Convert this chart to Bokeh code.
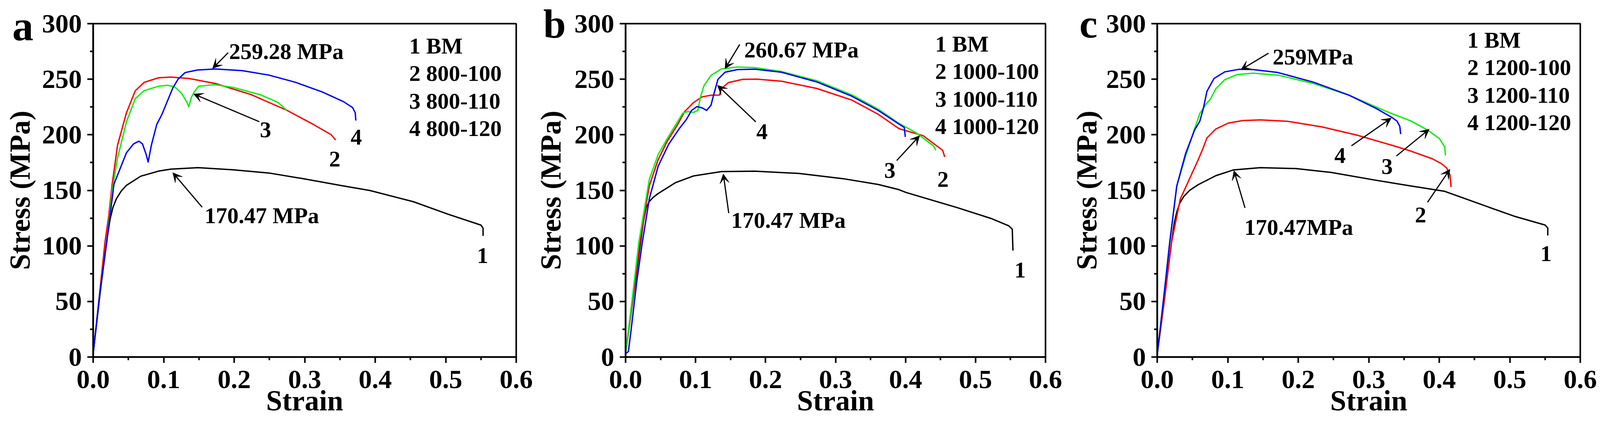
from bokeh.plotting import figure
from bokeh.models import Range1d, FixedTicker, PrintfTickFormatter, Arrow, VeeHead, LinearAxis
from bokeh.layouts import row
from bokeh.embed import file_html
from bokeh.resources import INLINE
from bokeh.core.properties import value

FONT = "Liberation Serif"
COLORS = ["#000000", "#ff0000", "#11ee11", "#0000ff"]

x_ticks = [0.0, 0.1, 0.2, 0.3, 0.4, 0.5, 0.6]
x_minor = [0.05, 0.15, 0.25, 0.35, 0.45, 0.55]
y_ticks = [0, 50, 100, 150, 200, 250, 300]
y_minor = [25, 75, 125, 175, 225, 275]

# ---- panel a : 800 series ----
strain_a1 = [0, 0.010, 0.020, 0.024, 0.028, 0.033, 0.040, 0.0472, 0.0674, 0.0927, 0.1103, 0.1482, 0.1987,
             0.2492, 0.2997, 0.3502, 0.3927, 0.454, 0.503, 0.550, 0.553, 0.553]
stress_a1 = [3, 58, 108, 124, 134.5, 142.5, 149.5, 154.5, 162.7, 167.3, 169.1, 170.4, 168.5,
             165.6, 160.3, 154.5, 149.8, 139.8, 128.6, 118.7, 116, 109]
strain_a2 = [0, 0.0099, 0.0169, 0.022, 0.027, 0.0346, 0.0472, 0.0598, 0.0724, 0.0927, 0.1103, 0.1356,
             0.1735, 0.224, 0.2745, 0.3123, 0.3376, 0.3439]
stress_a2 = [3, 62, 104, 126.5, 155.6, 190.7, 219.8, 239.7, 247.2, 251.3, 251.9, 250.7,
             246.1, 236.1, 222.1, 209.3, 200, 195.3]
strain_a3 = [0, 0.0099, 0.0194, 0.027, 0.0346, 0.0472, 0.0598, 0.0724, 0.0927, 0.1053, 0.1154, 0.1255,
             0.133, 0.1356, 0.1394, 0.1432, 0.1495, 0.1608, 0.1709, 0.1987, 0.2366, 0.2618, 0.2745]
stress_a3 = [3, 60, 104, 150, 179, 211.6, 232.6, 239.7, 243.7, 244.5, 243.2, 237.3,
             229.2, 225.1, 233.8, 238.5, 243.7, 244.3, 245.2, 242.6, 236.1, 229.2, 222.1]
strain_a4 = [0, 0.0099, 0.0194, 0.0295, 0.0472, 0.0573, 0.0649, 0.0699, 0.075, 0.078, 0.0826, 0.0902,
             0.0977, 0.1053, 0.1129, 0.1205, 0.1305, 0.1482, 0.1735, 0.2114, 0.2492, 0.2871, 0.325,
             0.3553, 0.3679, 0.3717, 0.3725]
stress_a4 = [3, 60, 104, 155.6, 183.8, 191.8, 194.2, 191.8, 182.6, 175.5, 190.7, 209.3,
             218.6, 230.3, 242, 250.1, 256, 258.3, 259.2, 257.7, 253.7, 247.2, 238.5,
             229.7, 224.5, 219.8, 212.8]

# ---- panel b : 1000 series ----
strain_b1 = [0, 0.010, 0.0213, 0.0255, 0.0294, 0.0339, 0.040, 0.0465, 0.0716, 0.0968, 0.137, 0.1849,
             0.2478, 0.3107, 0.361, 0.3907, 0.4006, 0.4741, 0.5231, 0.5476, 0.5525, 0.5535]
stress_b1 = [3, 50, 102.7, 122, 134.5, 140, 144, 147.1, 157, 162.9, 166.9, 167.2,
             165.2, 160.5, 155.3, 150.6, 148.1, 134.4, 124.5, 118, 115, 95.8]
strain_b2 = [0, 0.010, 0.0213, 0.0339, 0.0465, 0.0591, 0.0742, 0.0842, 0.0968, 0.1094, 0.122, 0.1341,
             0.137, 0.1471, 0.1673, 0.1874, 0.2226, 0.2729, 0.3233, 0.361, 0.3907, 0.4251, 0.453, 0.456]
stress_b2 = [3, 52, 107.4, 154.1, 177.5, 193.8, 209, 220.7, 228.9, 234.1, 235.6, 235.7,
             241.7, 247, 249.9, 250.1, 248.2, 241.7, 231.2, 218.4, 205.5, 199.2, 186, 180]
strain_b3 = [0, 0.010, 0.0188, 0.0339, 0.0465, 0.0591, 0.0716, 0.0817, 0.0893, 0.0968, 0.1031, 0.1069,
             0.1119, 0.122, 0.137, 0.1597, 0.1849, 0.2226, 0.2729, 0.3233, 0.361, 0.3907, 0.4153,
             0.440, 0.4433]
stress_b3 = [3, 55, 102.7, 159.9, 182.1, 196.1, 209, 219.5, 220.9, 220.1, 221.9, 233.5,
             244, 253.4, 259.3, 261, 260.4, 256.9, 248.7, 235.9, 223, 210.2, 201.7,
             190, 186]
strain_b4 = [0, 0.004, 0.008, 0.016, 0.0238, 0.0339, 0.0465, 0.0616, 0.0767, 0.0868, 0.0943, 0.1019,
             0.1094, 0.1157, 0.122, 0.1258, 0.132, 0.1421, 0.1597, 0.1849, 0.2226, 0.2729, 0.3233,
             0.361, 0.3907, 0.3982, 0.3997]
stress_b4 = [3, 5, 25, 68, 102.7, 142.4, 171.6, 191.5, 205.5, 213.7, 221.9, 225.4,
             224.2, 221.9, 226.5, 235.9, 249.9, 256.3, 258.7, 259, 256.3, 247.6, 234.7,
             221.9, 209.6, 206.6, 198]

# ---- panel c : 1200 series ----
strain_c1 = [0, 0.010, 0.0201, 0.024, 0.0277, 0.032, 0.0377, 0.046, 0.0579, 0.0831, 0.1083, 0.1461,
             0.1966, 0.2469, 0.3099, 0.3604, 0.4078, 0.4569, 0.5059, 0.550, 0.5539, 0.5539]
stress_c1 = [3, 52, 102.5, 120, 130.5, 138.5, 144.5, 150, 155, 163.2, 168.4, 170.4,
             169.6, 166.1, 159.1, 153.9, 149.1, 137.9, 126.8, 118.8, 116, 109.4]
strain_c2 = [0, 0.010, 0.0201, 0.0327, 0.0453, 0.0579, 0.0642, 0.0705, 0.0831, 0.1007, 0.121, 0.1461,
             0.184, 0.2344, 0.2848, 0.3352, 0.3588, 0.3901, 0.403, 0.4103, 0.4152, 0.4167]
stress_c2 = [2, 50, 102.5, 142.2, 159.7, 177.2, 186.6, 197.1, 205.2, 210.5, 212.8, 213.4,
             212.2, 207, 199.4, 190.1, 185.5, 178.4, 174, 170.3, 164, 152.9]
strain_c3 = [0, 0.010, 0.0176, 0.0277, 0.0402, 0.0529, 0.0604, 0.0705, 0.0755, 0.0831, 0.0957, 0.1134,
             0.136, 0.1713, 0.2217, 0.2721, 0.3226, 0.3604, 0.3833, 0.4005, 0.4078, 0.4088]
stress_c3 = [2, 58, 102.5, 153.9, 180.7, 205.2, 219.2, 228.6, 232.1, 241.4, 249.6, 254.2,
             255.4, 253.7, 246.1, 235.6, 221.6, 212.2, 204.3, 196.4, 188.9, 181.4]
strain_c4 = [0, 0.010, 0.0176, 0.0277, 0.0402, 0.0529, 0.0604, 0.0655, 0.0705, 0.0806, 0.0957, 0.1159,
             0.136, 0.1713, 0.2217, 0.2721, 0.3099, 0.3326, 0.3402, 0.344, 0.3453]
stress_c4 = [2, 58, 102.5, 153.9, 183, 204.1, 212.2, 223.9, 239.1, 250.7, 256.6, 258.9,
             258.7, 256, 247.3, 235.6, 223.9, 215.7, 212.2, 207.6, 200.6]

# legend text lines
legend_a = ["1 BM", "2 800-100", "3 800-110", "4 800-120"]
legend_b = ["1 BM", "2 1000-100", "3 1000-110", "4 1000-120"]
legend_c = ["1 BM", "2 1200-100", "3 1200-110", "4 1200-120"]

# annotation texts: (text, x, y)
notes_a = [("259.28 MPa", 0.1928, 275), ("170.47 MPa", 0.158, 127.4)]
notes_b = [("260.67 MPa", 0.1695, 276.3), ("170.47 MPa", 0.1509, 123.2)]
notes_c = [("259MPa", 0.1637, 270.2), ("170.47MPa", 0.1235, 116.8)]

# curve number labels: (text, x, y)
nums_a = [("1", 0.5523, 91.4), ("2", 0.3427, 178.3), ("3", 0.2445, 204.4), ("4", 0.3731, 197.7)]
nums_b = [("1", 0.5637, 78.4), ("2", 0.4535, 159.8), ("3", 0.3776, 168), ("4", 0.1949, 202.9)]
nums_c = [("1", 0.5515, 93.2), ("2", 0.3735, 128), ("3", 0.326, 171.5), ("4", 0.2593, 181.4)]

# arrows: (x_start, y_start, x_end, y_end)
arrows_a = [(0.1915, 273.9, 0.1694, 259.7), (0.1546, 134.8, 0.1129, 165.9), (0.2356, 211.8, 0.1424, 236.7)]
arrows_b = [(0.1631, 281.3, 0.142, 259.4), (0.1474, 129.5, 0.1396, 164.8), (0.1861, 211.6, 0.1313, 244.5),
            (0.3874, 176.8, 0.4202, 199.2)]
arrows_c = [(0.1578, 273.4, 0.1186, 258.5), (0.1245, 134.2, 0.1088, 167.8), (0.2755, 190.1, 0.3319, 215),
            (0.3392, 180.9, 0.3858, 205), (0.3833, 139.2, 0.4152, 169)]


def make_panel(letter, letter_y, letter_size, curves, legend, legend_x, legend_y0, notes, nums, arrows,
               width, left, right):
    p = figure(width=width, height=1093, x_range=Range1d(0, 0.6), y_range=Range1d(0, 300),
               output_backend="svg", toolbar_location=None,
               min_border_left=left, min_border_right=right, min_border_top=60, min_border_bottom=180,
               x_axis_label="Strain")
    p.grid.visible = False
    p.outline_line_color = "black"
    p.outline_line_width = 4
    p.background_fill_color = "white"
    p.border_fill_color = "white"

    p.xaxis.ticker = FixedTicker(ticks=x_ticks, minor_ticks=x_minor)
    p.yaxis.ticker = FixedTicker(ticks=y_ticks, minor_ticks=y_minor)
    p.xaxis.formatter = PrintfTickFormatter(format="%.1f")
    p.axis.axis_line_width = 4
    p.axis.major_tick_line_width = 4
    p.axis.minor_tick_line_width = 4
    p.axis.major_tick_in = 0
    p.axis.major_tick_out = 15
    p.axis.minor_tick_in = 0
    p.axis.minor_tick_out = 8
    p.axis.major_label_text_font = FONT
    p.axis.major_label_text_font_style = "bold"
    p.axis.major_label_text_font_size = "68px"
    p.axis.major_label_text_color = "black"
    p.axis.axis_label_text_font = FONT
    p.axis.axis_label_text_font_style = "bold"
    p.axis.axis_label_text_font_size = "74px"
    p.axis.axis_label_text_color = "black"
    p.xaxis.major_label_standoff = 20
    p.yaxis.major_label_standoff = 14
    p.xaxis.axis_label_standoff = -12

    # outer left axis: carries the panel letter (as its only tick label) and the y axis title
    outer = LinearAxis(ticker=FixedTicker(ticks=[letter_y], minor_ticks=[]),
                       major_label_overrides={letter_y: letter},
                       axis_line_color=None, major_tick_line_color=None, minor_tick_line_color=None,
                       major_tick_in=0, major_tick_out=0, major_label_standoff=19,
                       major_label_text_font=FONT, major_label_text_font_style="bold",
                       major_label_text_font_size=letter_size, major_label_text_color="black",
                       axis_label="Stress (MPa)", axis_label_standoff=-63,
                       axis_label_text_font=FONT, axis_label_text_font_style="bold",
                       axis_label_text_font_size="74px", axis_label_text_color="black")
    p.add_layout(outer, "left")

    for (xs, ys), c in zip(curves, COLORS):
        p.line(xs, ys, line_color=c, line_width=3.5, line_join="round")

    for xs, ys, xe, ye in arrows:
        p.add_layout(Arrow(x_start=xs, y_start=ys, x_end=xe, y_end=ye, line_width=3,
                           end=VeeHead(size=24, fill_color="black", line_color="black")))

    txt = dict(text_font=value(FONT), text_font_style="bold", text_font_size="58px",
               text_color="black", text_baseline="middle")
    p.text(x=[legend_x] * len(legend), y=[legend_y0 - 24.8 * i for i in range(len(legend))],
           text=legend, text_align="left", **txt)
    p.text(x=[n[1] for n in notes], y=[n[2] for n in notes], text=[n[0] for n in notes],
           text_align="left", **txt)
    p.text(x=[n[1] for n in nums], y=[n[2] for n in nums], text=[n[0] for n in nums],
           text_align="center", **txt)
    return p


pa = make_panel("a", 298, "108px",
                [(strain_a1, stress_a1), (strain_a2, stress_a2), (strain_a3, stress_a3), (strain_a4, stress_a4)],
                legend_a, 0.4482, 280.1, notes_a, nums_a, arrows_a, 1365, 238, 44)
pb = make_panel("b", 300, "104px",
                [(strain_b1, stress_b1), (strain_b2, stress_b2), (strain_b3, stress_b3), (strain_b4, stress_b4)],
                legend_b, 0.4423, 281.8, notes_b, nums_b, arrows_b, 1371, 226, 60)
pc = make_panel("c", 300, "104px",
                [(strain_c1, stress_c1), (strain_c2, stress_c2), (strain_c3, stress_c3), (strain_c4, stress_c4)],
                legend_c, 0.4397, 285.3, notes_c, nums_c, arrows_c, 1379, 226, 70)

layout = row(pa, pb, pc)
open("out.html", "w").write(file_html(layout, INLINE))
